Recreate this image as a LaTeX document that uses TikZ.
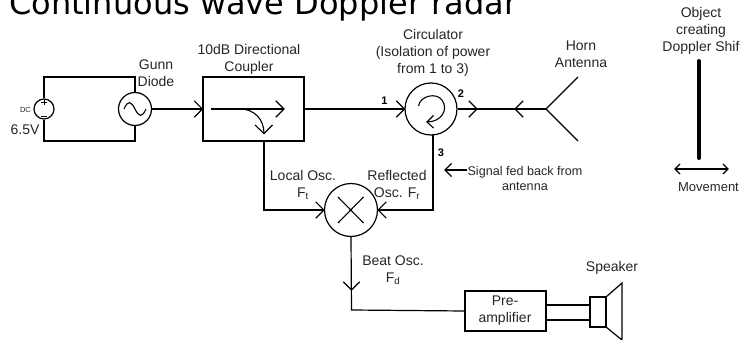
\documentclass[tikz,border=0pt]{standalone}
\usepackage{fontspec}
\setmainfont{Liberation Sans}
\newfontfamily\titlefont{DejaVu Sans}
\tikzset{
 wire/.style={draw=black,line width=1.2pt,line join=miter},
 blockbox/.style={draw=black,line width=1.2pt,rectangle,inner sep=0pt},
 roundel/.style={draw=black,line width=1.2pt,circle,inner sep=0pt,fill=white},
 lab/.style={font=\fontsize{14}{17}\selectfont,align=center,inner sep=0pt,text=black!85},
 smalllab/.style={font=\fontsize{12.6}{15}\selectfont,align=center,inner sep=0pt,text=black!85},
 num/.style={font=\fontsize{11}{12}\selectfont\bfseries,inner sep=0pt}
}
\newcommand{\chev}[3]{\draw[wire] (#1)++(#3+135:11.5pt) -- (#1) -- ++(#3-135:11.5pt);}
\begin{document}
\begin{tikzpicture}[x=1pt,y=-1pt]
\useasboundingbox[fill=white] (0,0) rectangle (740,340);
\begin{scope}
\clip (0,0) rectangle (740,340);
\node[anchor=base west,inner sep=0pt,font=\titlefont\fontsize{32}{34}\selectfont] (title) at (9,15) {Continuous wave Doppler radar};
\end{scope}
% nodes
\node[roundel,minimum size=20pt] (dc) at (44,109) {};
\node[roundel,minimum size=33pt] (gunn) at (135,109) {};
\node[blockbox,minimum width=101pt,minimum height=64pt] (coupler) at (253.5,109) {};
\node[roundel,minimum size=52pt] (circ) at (431,109) {};
\node[roundel,minimum size=53pt] (mixer) at (351,210) {};
\node[blockbox,minimum width=81pt,minimum height=40pt] (preamp) at (505.5,311) {};
\node[blockbox,minimum width=16pt,minimum height=30pt] (spk) at (598,312) {};
\coordinate (apex) at (546,109);
\coordinate (hornA) at (578,77);
\coordinate (hornB) at (578,141);
% DC loop
\draw[wire] (dc.north) |- (135,77) -- (gunn.north);
\draw[wire] (dc.south) |- (135,141) -- (gunn.south);
\draw[line width=0.9pt] (41,102) -- (47,102) (44,99) -- (44,105) (41,116) -- (47,116);
% gunn sine
\draw[line width=1.1pt] (124,109) .. controls (128,100) and (131,101) .. (135,109) .. controls (139,117) and (142,118) .. (146,109);
% main path
\draw[wire] (gunn.east) -- (coupler.west);
\chev{coupler.west}{0}{0}
\draw[wire] (coupler.east) -- (circ.west);
\chev{circ.west}{0}{0}
\draw[wire] (circ.east) -- (apex);
\coordinate (c2) at (477,109);
\chev{c2}{0}{0}
\coordinate (h1) at (515,109);
\chev{h1}{0}{180}
\draw[wire] (hornA) -- (apex) -- (hornB);
% coupler inner
\coordinate (ci1) at (211,109);
\coordinate (ci2) at (284,109);
\draw[line width=1.1pt] (ci1) -- (ci2);
\chev{ci2}{0}{0}
\coordinate (ci3) at (264,133.5);
\draw[line width=1.1pt] (240,109) .. controls (254,109) and (264,119) .. (ci3);
\draw[line width=1.1pt] (255,125) -- (ci3) -- (272.5,125);
% circulator inner
\draw[line width=1.1pt] (418.5,106) .. controls (420,96) and (436,92) .. (442,100) .. controls (449,110) and (441,122) .. (427,122);
\draw[line width=1.1pt] (433.5,115.5) -- (427,122) -- (433.5,128);
% circulator to mixer
\coordinate (c3) at (433,210);
\draw[wire] (433,135) -- (c3) -- (mixer.east);
\chev{mixer.east}{0}{180}
\coordinate (c4) at (264,210);
\draw[wire] (264,141) -- (c4) -- (mixer.west);
\chev{mixer.west}{0}{0}
\draw[line width=1.1pt] (338,197) -- (363.5,223) (363.5,197) -- (338,223);
% to preamp
\coordinate (c5) at (351.5,310);
\coordinate (c6) at (351.5,290);
\draw[wire] (mixer.south) -- (c5) -- (preamp.west);
\chev{c6}{0}{-90}
% amplifier to speaker
\draw[wire] (546,305) -- (590,305);
\draw[wire] (546,320) -- (590,320);
\draw[wire] (606,297) -- (622,283) -- (622,340) -- (606,327);
% object
\coordinate (oa) at (699,61);
\coordinate (ob) at (699,158);
\draw[line width=4pt,line cap=round] (oa) -- (ob);
\coordinate (ma) at (675,169);
\coordinate (mb) at (728,169);
\draw[line width=1.1pt] (ma) -- (mb);
\draw[line width=1.1pt] (680,164) -- (ma) -- (680,174);
\draw[line width=1.1pt] (723,164) -- (mb) -- (723,174);
% signal arrow
\coordinate (sa) at (445,170);
\coordinate (sb) at (467,170);
\draw[line width=1.1pt] (sb) -- (sa);
\draw[line width=1.1pt] (451.5,163.5) -- (sa) -- (451.5,176.5);
% labels
\node[font=\fontsize{7.5}{8}\selectfont,inner sep=0pt,text=black!85] at (25.5,109.5) {DC};
\node[lab] at (25,130) {6.5V};
\node[lab] at (156,73) {Gunn\\Diode};
\node[lab] at (249,59) {10dB Directional\\Coupler};
\node[lab] at (433,53) {Circulator\\(Isolation of power\\from 1 to 3)};
\node[lab] at (581,54.5) {Horn\\Antenna};
\node[lab] at (701,31) {Object\\creating\\Doppler Shif};
\node[num] at (384.5,101) {1};
\node[num] at (461,94) {2};
\node[num] at (441,153) {3};
\node[smalllab] at (525,178.5) {Signal fed back from\\antenna};
\node[lab,font=\fontsize{13}{15}\selectfont] at (708.5,187) {Movement};
\node[lab] at (303,185) {Local Osc.\\F\textsubscript{t}};
\node[lab] at (397,185) {Reflected\\Osc. F\textsubscript{r}};
\node[lab] at (393,270) {Beat Osc.\\F\textsubscript{d}};
\node[lab] at (505,311) {Pre-\\amplifier};
\node[lab] at (612,268) {Speaker};
\end{tikzpicture}
\end{document}
